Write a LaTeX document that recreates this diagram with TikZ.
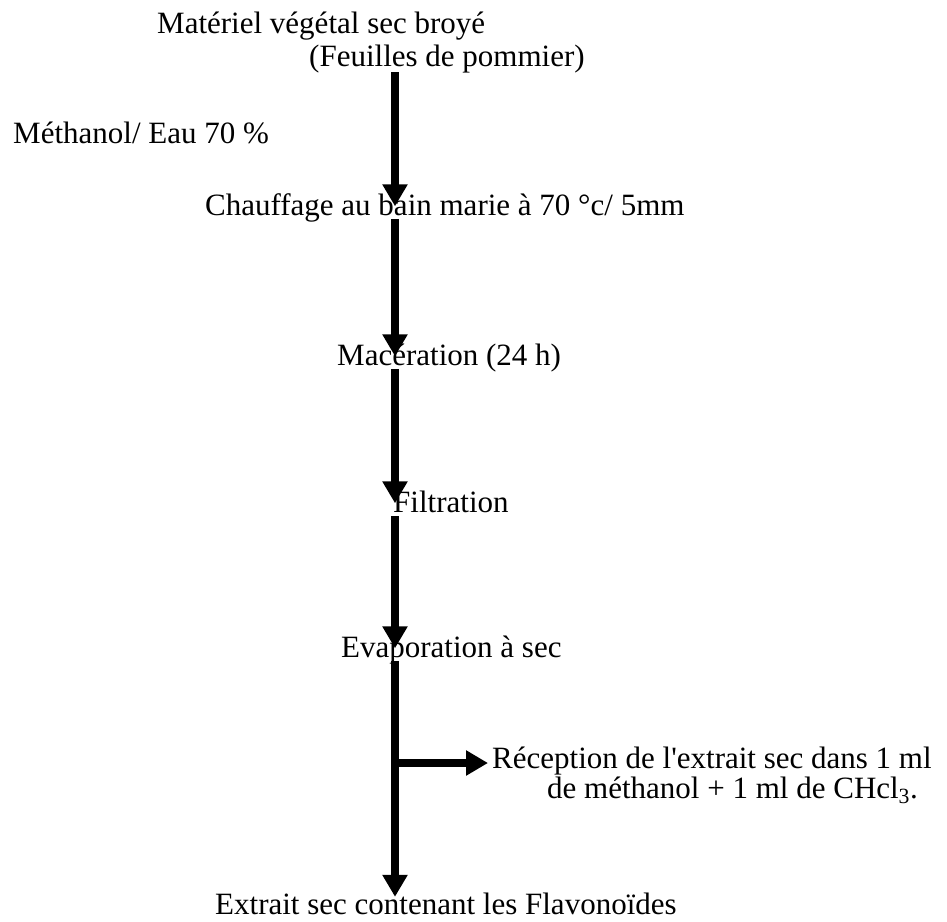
\documentclass[tikz,border=0pt]{standalone}
\usepackage{fontspec}
\setmainfont{Liberation Serif}
\usetikzlibrary{arrows.meta}

\begin{document}
\begin{tikzpicture}[x=1pt,y=-1pt,font=\fontsize{31}{36}\selectfont,lbl/.style={anchor=base west,inner sep=0pt,text height=.7em,text depth=.22em},flow/.style={line width=8pt,-{Triangle[width=24pt,length=22pt]},shorten <=1.5pt,shorten >=1.5pt}]
\useasboundingbox (0,0) rectangle (947,921);
\coordinate (spine) at (395,0);
\node[lbl] (materiel) at (157,33) {Matériel végétal sec broyé};
\node[lbl] (feuilles) at (309,66) {(Feuilles de pommier)};
\node[lbl] (solvant) at (13,143) {Méthanol/ Eau 70 \%};
\node[lbl] (chauffage) at (205,215) {Chauffage au bain marie à 70 °c/ 5mm};
\node[lbl] (maceration) at (337,365) {Macération (24 h)};
\node[lbl] (filtration) at (393,512) {Filtration};
\node[lbl] (evaporation) at (341,657) {Evaporation à sec};
\node[lbl] (receptionA) at (492,768) {Réception de l\textquotesingle extrait sec dans 1 ml};
\node[lbl] (receptionB) at (547,798) {de méthanol + 1 ml de CHcl\textsubscript{3}.};
\node[lbl] (extrait) at (215,914) {Extrait sec contenant les Flavonoïdes};
\coordinate (branch) at ([yshift=5pt]receptionA.base -| spine);
\draw[flow,shorten <=4pt] (feuilles.south -| spine) -- (chauffage.north -| spine);
\draw[flow] (chauffage.south -| spine) -- (maceration.north -| spine);
\draw[flow] (maceration.south -| spine) -- (filtration.north -| spine);
\draw[flow] (filtration.south -| spine) -- (evaporation.north -| spine);
\draw[flow,shorten >=10pt] (evaporation.south -| spine) -- (extrait.north -| spine);
\draw[flow,shorten <=0pt,shorten >=4pt] (branch) -- (branch -| receptionA.west);
\end{tikzpicture}
\end{document}
